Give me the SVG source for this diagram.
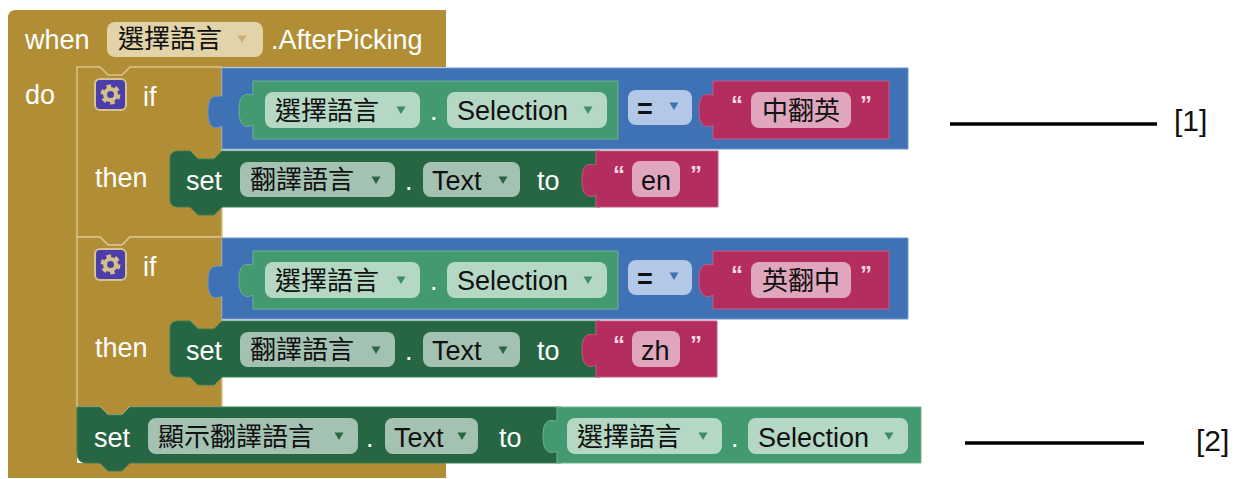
<svg xmlns="http://www.w3.org/2000/svg" width="1249" height="479" viewBox="0 0 1249 479">
<style>
.gold{fill:#B18E35}
.ifb{fill:#B18E35;stroke:#D9C48E;stroke-width:1.5}
.blue{fill:#3F71B5;stroke:#6F95CC;stroke-width:1}
.green{fill:#439970;stroke:#6DB390;stroke-width:1}
.setb{fill:#266643;stroke:#3E7D5A;stroke-width:1}
.red{fill:#B32D5E;stroke:#C85A82;stroke-width:1}
.lbl{font-family:"Liberation Sans",Arial,sans-serif;font-size:27px;fill:#FFFFFF}
.fld{font-family:"Liberation Sans","Noto Sans CJK TC",sans-serif;font-size:27px;fill:#111111}
.cjk{font-family:"Noto Sans CJK TC","Liberation Sans",sans-serif;font-size:26px;fill:#111111}
.q{font-family:"Liberation Sans",Arial,sans-serif;font-size:24px;font-weight:bold;fill:#F4D7E2}
.fg{fill:#E2D3A9}
.fgr{fill:#B4D8C4}
.fs{fill:#A4C2B1}
.fr{fill:#E0A6BE}
.fb{fill:#B3C8E6}
.note{font-family:"Liberation Sans",Arial,sans-serif;font-size:30px;fill:#111111}
</style>
<defs>
<path id="tri" d="M-4.5,-3.5 H4.5 L0,4 Z"/>
</defs>

<g id="event">
<path class="gold" d="M16,10 H446 V67 H130 l-8,8 h-14 l-8,-8 H77 V463 H446 V478 H8 V18 Q8,10 16,10 Z"/>
<text class="lbl" x="25" y="49">when</text>
<rect class="fg" x="107" y="22" width="156" height="35" rx="8"/>
<text class="cjk" x="118" y="48">選擇語言</text>
<use href="#tri" x="242" y="39" fill="#C9B07A"/>
<text class="lbl" x="271" y="49">.AfterPicking</text>
<text class="lbl" x="25" y="104">do</text>
</g>

<g id="if1">
<path class="ifb" d="M77,67 H100 l8,8 h14 l8,-8 H222 V237 H130 l-8,8 h-14 l-8,-8 H77 Z"/>
<rect x="95" y="79" width="31" height="31" rx="5" fill="#4B3DAA" stroke="#D8C28E" stroke-width="2"/>
<circle cx="110.5" cy="94.5" r="8" fill="none" stroke="#D6C08A" stroke-width="4" stroke-dasharray="4.4 4"/>
<circle cx="110.5" cy="94.5" r="5.5" fill="none" stroke="#D6C08A" stroke-width="4"/>
<text class="lbl" x="143" y="106">if</text>
<text class="lbl" x="95" y="187">then</text>
</g>

<g id="cond1">
<path class="blue" d="M222,68 H908 V149 H222 V126 C218,128 208,132 208,112 C208,92 218,97 222,96 Z"/>
<path class="green" d="M253,81 H618 V139 H253 V125 C249,127 239,130 239,110 C239,90 249,95 253,95 Z"/>
<rect class="fgr" x="265" y="92" width="155" height="36" rx="8"/>
<text class="cjk" x="275" y="120">選擇語言</text>
<use href="#tri" x="401" y="110" fill="#3D8D64"/>
<text class="lbl" x="430" y="120">.</text>
<rect class="fgr" x="447" y="92" width="160" height="36" rx="8"/>
<text class="fld" x="457" y="120">Selection</text>
<use href="#tri" x="588" y="110" fill="#3D8D64"/>
<rect class="fb" x="628" y="90" width="64" height="35" rx="8"/>
<text class="fld" x="637" y="118" font-weight="bold">=</text>
<use href="#tri" x="674" y="106" fill="#3F71B5"/>
<path class="red" d="M713,81 H889 V139 H713 V125 C709,127 699,130 699,110 C699,90 709,95 713,95 Z"/>
<text class="q" x="731" y="113">“</text>
<rect class="fr" x="751" y="92" width="100" height="36" rx="8"/>
<text class="cjk" x="762" y="120">中翻英</text>
<text class="q" x="860" y="113">”</text>
</g>

<g id="set1">
<path class="setb" d="M178,151 H190 l8,8 h16 l8,-8 H600 V207 H222 l-8,8 h-16 l-8,-8 H178 Q170,207 170,199 V159 Q170,151 178,151 Z"/>
<text class="lbl" x="186" y="190">set</text>
<rect class="fs" x="240" y="162" width="155" height="35" rx="8"/>
<text class="cjk" x="250" y="189">翻譯語言</text>
<use href="#tri" x="376" y="180" fill="#266643"/>
<text class="lbl" x="405" y="190">.</text>
<rect class="fs" x="423" y="162" width="97" height="35" rx="8"/>
<text class="fld" x="432" y="190">Text</text>
<use href="#tri" x="503" y="180" fill="#266643"/>
<text class="lbl" x="537" y="190">to</text>
<path class="red" d="M596,151 H718 V207 H596 V195 C592,197 582,200 582,180 C582,160 592,165 596,165 Z"/>
<text class="q" x="613" y="183">“</text>
<rect class="fr" x="632" y="161" width="48" height="36" rx="8"/>
<text class="fld" x="641" y="190">en</text>
<text class="q" x="690" y="183">”</text>
</g>

<g id="if2">
<path class="ifb" d="M77,237 H100 l8,8 h14 l8,-8 H222 V407 H130 l-8,8 h-14 l-8,-8 H77 Z"/>
<rect x="95" y="249" width="31" height="31" rx="5" fill="#4B3DAA" stroke="#D8C28E" stroke-width="2"/>
<circle cx="110.5" cy="264.5" r="8" fill="none" stroke="#D6C08A" stroke-width="4" stroke-dasharray="4.4 4"/>
<circle cx="110.5" cy="264.5" r="5.5" fill="none" stroke="#D6C08A" stroke-width="4"/>
<text class="lbl" x="143" y="276">if</text>
<text class="lbl" x="95" y="357">then</text>
</g>

<g id="cond2">
<path class="blue" d="M222,238 H908 V319 H222 V296 C218,298 208,302 208,282 C208,262 218,267 222,266 Z"/>
<path class="green" d="M253,251 H618 V309 H253 V295 C249,297 239,300 239,280 C239,260 249,265 253,265 Z"/>
<rect class="fgr" x="265" y="262" width="155" height="36" rx="8"/>
<text class="cjk" x="275" y="290">選擇語言</text>
<use href="#tri" x="401" y="280" fill="#3D8D64"/>
<text class="lbl" x="430" y="290">.</text>
<rect class="fgr" x="447" y="262" width="160" height="36" rx="8"/>
<text class="fld" x="457" y="290">Selection</text>
<use href="#tri" x="588" y="280" fill="#3D8D64"/>
<rect class="fb" x="628" y="260" width="64" height="35" rx="8"/>
<text class="fld" x="637" y="288" font-weight="bold">=</text>
<use href="#tri" x="674" y="276" fill="#3F71B5"/>
<path class="red" d="M713,251 H889 V309 H713 V295 C709,297 699,300 699,280 C699,260 709,265 713,265 Z"/>
<text class="q" x="731" y="283">“</text>
<rect class="fr" x="751" y="262" width="100" height="36" rx="8"/>
<text class="cjk" x="762" y="290">英翻中</text>
<text class="q" x="860" y="283">”</text>
</g>

<g id="set2">
<path class="setb" d="M178,321 H190 l8,8 h16 l8,-8 H600 V377 H222 l-8,8 h-16 l-8,-8 H178 Q170,377 170,369 V329 Q170,321 178,321 Z"/>
<text class="lbl" x="186" y="360">set</text>
<rect class="fs" x="240" y="332" width="155" height="35" rx="8"/>
<text class="cjk" x="250" y="359">翻譯語言</text>
<use href="#tri" x="376" y="350" fill="#266643"/>
<text class="lbl" x="405" y="360">.</text>
<rect class="fs" x="423" y="332" width="97" height="35" rx="8"/>
<text class="fld" x="432" y="360">Text</text>
<use href="#tri" x="503" y="350" fill="#266643"/>
<text class="lbl" x="537" y="360">to</text>
<path class="red" d="M596,321 H717 V377 H596 V365 C592,367 582,370 582,350 C582,330 592,335 596,335 Z"/>
<text class="q" x="613" y="353">“</text>
<rect class="fr" x="632" y="331" width="48" height="36" rx="8"/>
<text class="fld" x="641" y="360">zh</text>
<text class="q" x="690" y="353">”</text>
</g>

<g id="set3">
<path class="setb" d="M77,407 H100 l8,8 h14 l8,-8 H561 V463 H130 l-8,8 h-14 l-8,-8 H87 Q77,463 77,453 Z"/>
<text class="lbl" x="94" y="447">set</text>
<rect class="fs" x="148" y="418" width="210" height="36" rx="8"/>
<text class="cjk" x="158" y="446">顯示翻譯語言</text>
<use href="#tri" x="339" y="436" fill="#266643"/>
<text class="lbl" x="366" y="447">.</text>
<rect class="fs" x="385" y="418" width="93" height="36" rx="8"/>
<text class="fld" x="394" y="447">Text</text>
<use href="#tri" x="462" y="436" fill="#266643"/>
<text class="lbl" x="499" y="447">to</text>
<path class="green" d="M557,407 H921 V463 H557 V451 C553,453 543,456 543,436 C543,416 553,421 557,421 Z"/>
<rect class="fgr" x="567" y="418" width="155" height="36" rx="8"/>
<text class="cjk" x="577" y="446">選擇語言</text>
<use href="#tri" x="703" y="436" fill="#3D8D64"/>
<text class="lbl" x="731" y="447">.</text>
<rect class="fgr" x="748" y="418" width="160" height="36" rx="8"/>
<text class="fld" x="758" y="447">Selection</text>
<use href="#tri" x="889" y="436" fill="#3D8D64"/>
</g>

<g id="connectors">
<line x1="950" y1="124" x2="1157" y2="124" stroke="#000" stroke-width="3.5"/>
<line x1="965" y1="443" x2="1144" y2="443" stroke="#000" stroke-width="3.5"/>
</g>

<g id="notes">
<text class="note" x="1174" y="131">[1]</text>
<text class="note" x="1196" y="451">[2]</text>
</g>
</svg>
